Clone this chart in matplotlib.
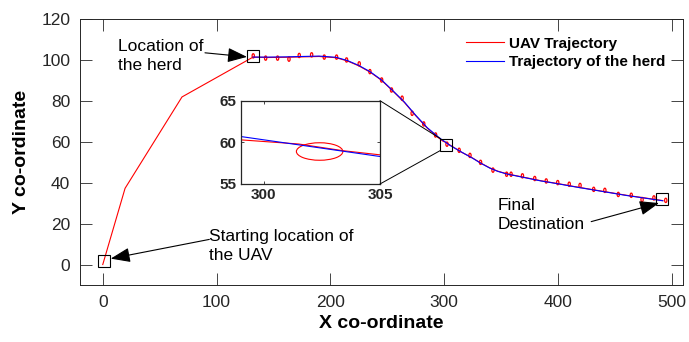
import matplotlib
matplotlib.use('Agg')
import matplotlib.pyplot as plt
from matplotlib.patches import Ellipse, ConnectionPatch

plt.rcParams['font.family'] = ['Liberation Sans', 'DejaVu Sans']

# ---------------- data ----------------
herd_x = [132, 145, 160, 175, 190, 205, 215, 225, 235, 245, 255, 265, 275, 285, 295,
          305, 315, 325, 332, 340, 347, 355, 370, 385, 400, 415, 430, 445, 460, 475, 492]
herd_y = [101.5, 101.5, 101.6, 101.8, 102.0, 101.4, 99.8, 97.4, 94.3, 90.3, 85.0, 79.5,
          73.0, 67.0, 62.3, 58.3, 55.1, 52.0, 49.6, 47.2, 45.6, 44.3, 42.6, 40.9, 39.5,
          38.0, 36.6, 35.2, 33.8, 32.6, 31.2]

uav_x = [0, 19.6, 69.6, 132, 145, 160, 175, 190, 205, 215, 225, 235, 245, 255, 265, 275,
         285, 295, 299, 301.5, 303.4, 305, 315, 325, 332, 340, 347, 355, 370, 385, 400,
         415, 430, 445, 460, 475, 492]
uav_y = [0, 37.3, 82.0, 101.5, 101.3, 101.4, 101.6, 101.8, 101.2, 99.6, 97.2, 94.1, 90.1,
         84.8, 79.3, 72.8, 66.8, 62.0, 60.3, 59.8, 59.0, 58.5, 55.0, 52.1, 49.7, 47.3,
         45.7, 44.4, 42.7, 41.0, 39.6, 38.1, 36.7, 35.3, 33.9, 32.7, 31.3]

loop_x = [132.2, 143.1, 153.6, 163.6, 172.6, 183.5, 194.6, 205.4, 214.2, 225.3, 234.7,
          245.0, 253.7, 263.0, 271.8, 282.0, 292.4, 302.4, 313.1, 322.6, 331.9, 342.8,
          354.8, 358.7, 368.7, 379.5, 389.6, 399.7, 409.8, 419.3, 431.3, 441.1, 452.9,
          464.3, 473.8, 484.2, 494.6]
loop_y = [102.1, 101.0, 101.0, 100.5, 102.3, 102.6, 101.5, 101.5, 100.1, 98.2, 94.4,
          90.3, 85.4, 81.4, 74.0, 68.8, 63.4, 58.9, 55.9, 53.4, 50.0, 46.2, 44.2, 44.2,
          43.4, 42.1, 40.9, 40.1, 39.3, 38.7, 36.8, 36.3, 34.3, 33.9, 31.8, 32.6, 31.4]
loop_w = 2.0
loop_h = 2.1

box_x = [1.1, 132.0, 301.8, 491.0]
box_y = [1.6, 102.0, 58.7, 32.0]

xticks = [0, 100, 200, 300, 400, 500]
yticks = [0, 20, 40, 60, 80, 100, 120]
inset_xticks = [300, 305]
inset_yticks = [55, 60, 65]

labels = ['UAV Trajectory', 'Trajectory of the herd']

# ---------------- figure ----------------
GRAY = '#262626'
fig = plt.figure(figsize=(6.89, 3.42), dpi=100)
ax = fig.add_axes([0.1161, 0.1667, 0.8756, 0.7769])

ax.plot(uav_x, uav_y, color='red', lw=0.8, label=labels[0])
ax.plot(herd_x, herd_y, color='blue', lw=0.8, label=labels[1])
for cx, cy in zip(loop_x, loop_y):
    ax.add_patch(Ellipse((cx, cy), loop_w, loop_h, fill=False, ec='red', lw=0.9))
ax.plot(box_x, box_y, 's', mfc='none', mec='k', ms=8.6, mew=0.8)

ax.set_xlim(-20, 510)
ax.set_ylim(-10, 120)
ax.set_xticks(xticks)
ax.set_yticks(yticks)
ax.tick_params(direction='in', length=8.5, width=0.6, color=GRAY, labelcolor=GRAY,
               labelsize=12.5, top=True, right=True, pad=7)
for s in ax.spines.values():
    s.set_color(GRAY)
    s.set_linewidth(0.7)
ax.set_xlabel('X co-ordinate', fontsize=14, fontweight='bold', labelpad=4)
ax.set_ylabel('Y co-ordinate', fontsize=14, fontweight='bold', labelpad=8)

ax.legend(loc='upper left', bbox_to_anchor=(0.640, 0.935), frameon=False,
          prop={'weight': 'bold', 'size': 11}, handlelength=2.5, handletextpad=0.3,
          borderpad=0, borderaxespad=0, labelspacing=0.3)

# annotations
ap = dict(arrowstyle='-|>,head_length=0.8,head_width=0.3', color='k', lw=0.8,
          mutation_scale=15, shrinkA=0, shrinkB=0)
ax.text(13.4, 101.9, 'Location of\nthe herd', fontsize=12.5, ha='left', va='center',
        linespacing=1.3)
ax.annotate('', xy=(126.7, 101.6), xytext=(89.8, 103.6), arrowprops=ap)
ax.text(93.6, 9.0, 'Starting location of\nthe UAV', fontsize=12.5, ha='left',
        va='center', linespacing=1.3)
ax.annotate('', xy=(7.0, 2.9), xytext=(93.6, 12.3), arrowprops=ap)
ax.text(346.7, 24.2, 'Final\nDestination', fontsize=12.5, ha='left', va='center',
        linespacing=1.3)
ax.annotate('', xy=(488.7, 30.1), xytext=(429.1, 21.0), arrowprops=ap)

# ---------------- inset ----------------
axins = fig.add_axes([0.3493, 0.462, 0.2022, 0.2436])
axins.plot(uav_x, uav_y, color='red', lw=0.8)
axins.plot(herd_x, herd_y, color='blue', lw=0.8)
for cx, cy in zip(loop_x, loop_y):
    axins.add_patch(Ellipse((cx, cy), loop_w, loop_h, fill=False, ec='red', lw=0.8))
axins.set_xlim(299, 305)
axins.set_ylim(55, 65)
axins.set_xticks(inset_xticks)
axins.set_yticks(inset_yticks)
axins.tick_params(direction='in', length=2, width=0.6, color=GRAY, labelcolor=GRAY,
                  labelsize=11, top=True, right=True, pad=3)
for lab in axins.get_xticklabels() + axins.get_yticklabels():
    lab.set_fontweight('bold')
for s in axins.spines.values():
    s.set_color(GRAY)
    s.set_linewidth(0.9)

for ya, yb in [(1, 61.6), (0, 55.8)]:
    con = ConnectionPatch(xyA=(1, ya), coordsA=axins.transAxes,
                          xyB=(296.6, yb), coordsB=ax.transData,
                          color='k', lw=0.7)
    fig.add_artist(con)

fig.savefig('out.png', dpi=100)
